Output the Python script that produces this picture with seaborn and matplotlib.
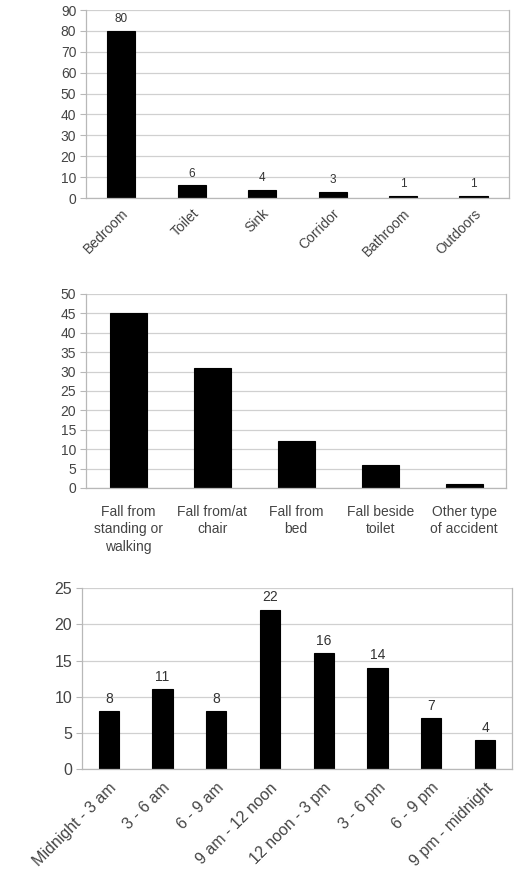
import matplotlib
matplotlib.use("Agg")
import matplotlib.pyplot as plt
import seaborn as sns
import numpy as np

# panel 1: place of fall
places = ["Bedroom", "Toilet", "Sink", "Corridor", "Bathroom", "Outdoors"]
place_counts = [80, 6, 4, 3, 1, 1]

# panel 2: type of fall
fall_types = ["Fall from\nstanding or\nwalking", "Fall from/at\nchair", "Fall from\nbed",
              "Fall beside\ntoilet", "Other type\nof accident"]
fall_counts = [45, 31, 12, 6, 1]

# panel 3: time of fall
times = ["Midnight - 3 am", "3 - 6 am", "6 - 9 am", "9 am - 12 noon",
         "12 noon - 3 pm", "3 - 6 pm", "6 - 9 pm", "9 pm - midnight"]
time_counts = [8, 11, 8, 22, 16, 14, 7, 4]

sns.set_style("white")
plt.rcParams['font.family'] = ['Liberation Sans', 'DejaVu Sans']

fig = plt.figure(figsize=(5.15, 8.8), dpi=100)


def panel(rect, cats, vals, ymax, ystep, width, labels=True, rot=True, fs=8, vfs=8, xpad=6):
    ax = fig.add_axes(rect)
    sns.barplot(x=cats, y=vals, ax=ax, color="black", width=width,
                edgecolor="black", linewidth=0.8, saturation=1)
    n = len(cats)
    ax.set_xlim(-0.5, n - 0.5)
    ax.set_ylim(0, ymax)
    ax.set_yticks(np.arange(0, ymax + 1, ystep))
    ax.yaxis.grid(True, color="#d0d0d0", linewidth=0.9)
    ax.set_axisbelow(True)
    ax.spines["top"].set_visible(False)
    for s in ["left", "bottom", "right"]:
        ax.spines[s].set_color("#b8b8b8")
        ax.spines[s].set_linewidth(0.9)
    ax.set_xticks(np.arange(-0.5, n, 1.0), minor=True)
    ax.tick_params(axis="x", which="major", length=0, pad=xpad, labelsize=fs, labelcolor="#444444")
    ax.tick_params(axis="x", which="minor", length=4, color="#b8b8b8", direction="out")
    ax.tick_params(axis="y", length=4, color="#b8b8b8", direction="out", labelsize=fs,
                   labelcolor="#444444", left=True, pad=3)
    if rot:
        plt.setp(ax.get_xticklabels(), rotation=45, ha="right", rotation_mode="anchor")
    else:
        plt.setp(ax.get_xticklabels(), linespacing=1.35)
    if labels:
        ax.bar_label(ax.containers[0], padding=4, fontsize=vfs, color="#333333")
    return ax


ax1 = panel([0.167, 0.775, 0.821, 0.2136], places, place_counts, 90, 10, 0.4, fs=10, vfs=8.5)
ax2 = panel([0.167, 0.4455, 0.816, 0.2205], fall_types, fall_counts, 50, 5, 0.44,
            labels=False, rot=False, fs=10, xpad=12)
ax3 = panel([0.159, 0.126, 0.835, 0.2057], times, time_counts, 25, 5, 0.38, fs=11.5, vfs=10,
            xpad=8)

fig.savefig("out.png", dpi=100)
